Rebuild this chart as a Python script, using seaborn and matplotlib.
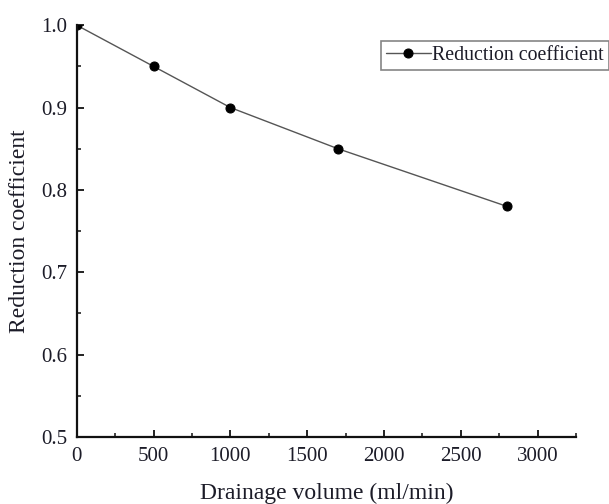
import matplotlib
matplotlib.use("Agg")
import matplotlib.pyplot as plt
import seaborn as sns
import pandas as pd
from matplotlib.ticker import MultipleLocator, FormatStrFormatter

drainage = [0, 500, 1000, 1700, 2800]
reduction = [1.0, 0.95, 0.90, 0.85, 0.78]
series_name = "Reduction coefficient"

df = pd.DataFrame({"x": drainage, "y": reduction})

sns.set_theme(style="ticks")
plt.rcParams['font.family'] = ['Liberation Serif', 'DejaVu Serif']

text_color = "#1c1c28"

fig = plt.figure(figsize=(6.09, 5.04), dpi=100)
ax = fig.add_axes([0.126, 0.133, 0.820, 0.817])

sns.lineplot(data=df, x="x", y="y", ax=ax, color="#555555", linewidth=1.0,
             marker="o", markersize=6.5, markerfacecolor="black",
             markeredgecolor="black", label=series_name, legend=False)

ax.set_xlim(0, 3250)
ax.set_ylim(0.5, 1.0)
ax.xaxis.set_major_locator(MultipleLocator(500))
ax.xaxis.set_minor_locator(MultipleLocator(250))
ax.yaxis.set_major_locator(MultipleLocator(0.1))
ax.yaxis.set_minor_locator(MultipleLocator(0.05))
ax.yaxis.set_major_formatter(FormatStrFormatter('%.1f'))

for s in ["top", "right"]:
    ax.spines[s].set_visible(False)
for s in ["left", "bottom"]:
    ax.spines[s].set_linewidth(1.6)
    ax.spines[s].set_color("#111111")

ax.tick_params(which="major", direction="in", length=5, width=1.3, labelsize=15,
               color="#111111", labelcolor=text_color, pad=7)
ax.tick_params(which="minor", direction="in", length=3, width=1.1, color="#111111")

ax.set_xlabel("Drainage volume (ml/min)", fontsize=17, labelpad=12, color=text_color)
ax.set_ylabel("Reduction coefficient", fontsize=17, labelpad=8, color=text_color)

handles, labels = ax.get_legend_handles_labels()
leg = fig.legend(handles, labels, loc="upper left", bbox_to_anchor=(0.625, 0.918),
                 fontsize=14.3, frameon=True, fancybox=False, handlelength=2.3,
                 handletextpad=0.05, borderpad=0.25, borderaxespad=0)
leg.get_frame().set_edgecolor("#666666")
leg.get_frame().set_linewidth(1.2)
for t in leg.get_texts():
    t.set_color(text_color)

fig.savefig("out.png", dpi=100)
